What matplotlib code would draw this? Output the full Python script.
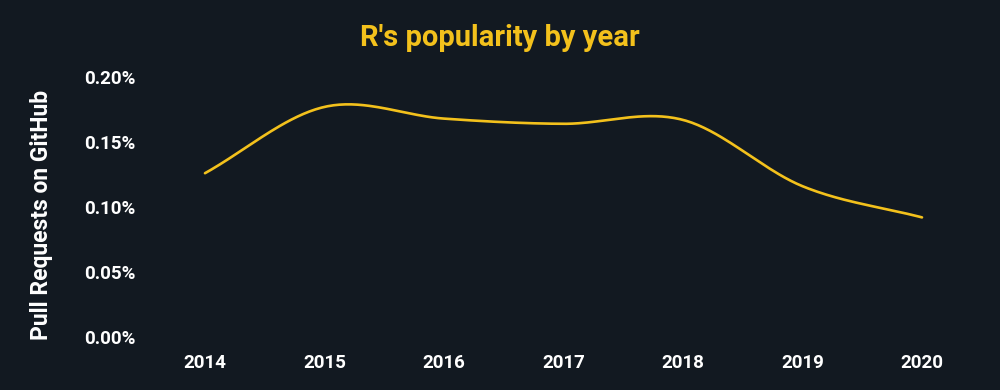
import numpy as np
import matplotlib
matplotlib.use("Agg")
import matplotlib.pyplot as plt
from matplotlib.ticker import FuncFormatter

# Data
years = [2014, 2015, 2016, 2017, 2018, 2019, 2020]
share = [0.126, 0.177, 0.168, 0.164, 0.167, 0.116, 0.092]   # % of pull requests
y_ticks = [0.00, 0.05, 0.10, 0.15, 0.20]
title = "R's popularity by year"
ylabel = "Pull Requests on GitHub"

BG = "#121921"
YEL = "#f3c11c"

def catmull_rom(xs, ys, n=40):
    xs = np.asarray(xs, float); ys = np.asarray(ys, float)
    m = np.zeros_like(ys)
    m[1:-1] = (ys[2:] - ys[:-2]) / (xs[2:] - xs[:-2])
    m[0] = (ys[1] - ys[0]) / (xs[1] - xs[0])
    m[-1] = (ys[-1] - ys[-2]) / (xs[-1] - xs[-2])
    ox, oy = [], []
    for i in range(len(xs) - 1):
        h = xs[i + 1] - xs[i]
        t = np.linspace(0, 1, n, endpoint=False)
        h00 = 2*t**3 - 3*t**2 + 1
        h10 = t**3 - 2*t**2 + t
        h01 = -2*t**3 + 3*t**2
        h11 = t**3 - t**2
        ox.append(xs[i] + t*h)
        oy.append(h00*ys[i] + h10*h*m[i] + h01*ys[i+1] + h11*h*m[i+1])
    ox.append([xs[-1]]); oy.append([ys[-1]])
    return np.concatenate(ox), np.concatenate(oy)

plt.rcParams['font.family'] = ['Roboto', 'DejaVu Sans']

fig = plt.figure(figsize=(10, 3.9), dpi=100, facecolor=BG)
ax = fig.add_axes([0.145, (390 - 337) / 390, 0.815, (337 - 77) / 390])
ax.set_facecolor(BG)

sx, sy = catmull_rom(years, share)
ax.plot(sx, sy, color=YEL, lw=1.9, solid_capstyle='round')

ax.set_xlim(2013.498, 2020.318)
ax.set_ylim(0, 0.20)
ax.set_xticks(years)
ax.set_xticklabels([str(y) for y in years])
ax.set_yticks(y_ticks)
ax.yaxis.set_major_formatter(FuncFormatter(lambda v, p: f"{v:.2f}%"))

for s in ax.spines.values():
    s.set_visible(False)
ax.tick_params(axis='both', length=0, colors='white', labelsize=13.5)
ax.tick_params(axis='y', pad=7)
ax.tick_params(axis='x', pad=12)
for lab in ax.get_xticklabels() + ax.get_yticklabels():
    lab.set_fontweight('bold')

fig.text(0.5, 1 - 38 / 390, title, ha='center', va='center',
         color=YEL, fontsize=21, fontweight='bold')
fig.text(0.042, 1 - 215 / 390, ylabel, ha='center', va='center', rotation=90,
         color='white', fontsize=16.5, fontweight='bold')

fig.savefig("out.png", dpi=100, facecolor=BG)
